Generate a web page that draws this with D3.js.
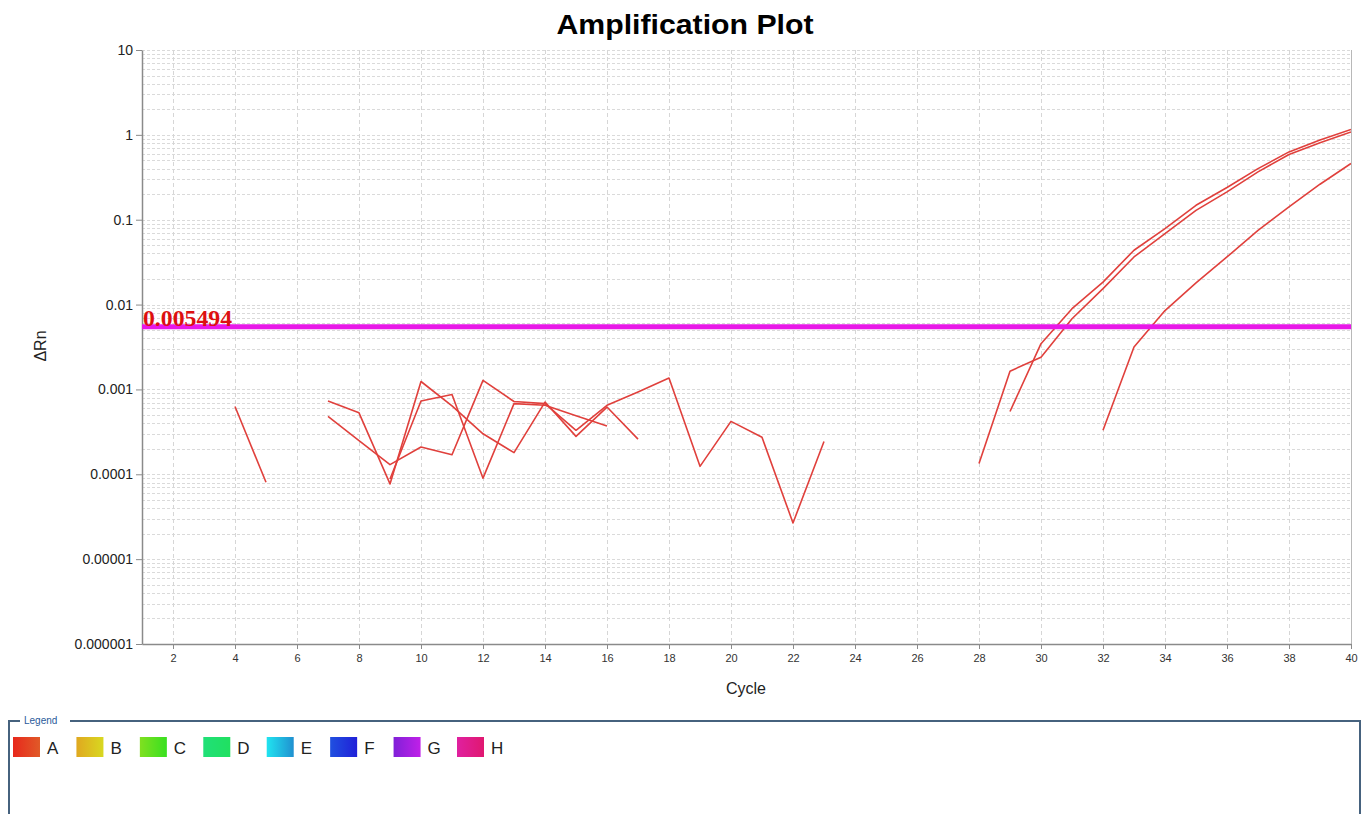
<!DOCTYPE html>
<html>
<head>
<meta charset="utf-8">
<script src="https://cdn.jsdelivr.net/npm/d3@7"></script>
<style>
  html, body { margin: 0; padding: 0; background: #ffffff; }
  svg { display: block; }
</style>
</head>
<body>
<svg id="chart" width="1370" height="814"></svg>
<script>
// Cycle numbers 1..40
const cycles = d3.range(1, 41);

// ΔRn per cycle for each trace in well A (null = not plotted)
function trace(start, values) {
  const arr = cycles.map(() => null);
  values.forEach((v, i) => { arr[start - 1 + i] = v; });
  return arr;
}
const wellA1 = trace(4, [0.00063, 0.0000805]);
const wellA2 = trace(7, [0.00073, 0.00053, 0.000077, 0.00124, 0.00064, 0.0003,
                         0.00018, 0.00071, 0.00028, 0.00062, 0.00026]);
const wellA3 = trace(7, [0.00048, 0.00025, 0.00013, 0.00021, 0.00017, 0.00128,
                         0.00072, 0.00068, 0.00033, 0.00065, 0.00093, 0.00136,
                         0.000124, 0.00042, 0.000273, 0.0000267, 0.000243]);
const wellA4 = trace(9, [0.000088, 0.00073, 0.00087, 0.00009, 0.00068, 0.00065,
                         0.00049, 0.00037]);
const wellA5 = trace(28, [0.000134, 0.00164, 0.0024, 0.0068, 0.0154, 0.0364,
                          0.0687, 0.129, 0.213, 0.366, 0.587, 0.805, 1.08]);
const wellA6 = trace(29, [0.00055, 0.00346, 0.00895, 0.0184, 0.0437, 0.0787,
                          0.148, 0.24, 0.40, 0.63, 0.87, 1.16]);
const wellA7 = trace(32, [0.00033, 0.00316, 0.0085, 0.018, 0.0364, 0.075,
                          0.1415, 0.262, 0.46]);
const traces = [wellA1, wellA2, wellA3, wellA4, wellA5, wellA6, wellA7];

const threshold = 0.005494;

const xTicks = d3.range(2, 41, 2);
const yTicks = [10, 1, 0.1, 0.01, 0.001, 0.0001, 0.00001, 0.000001];
const yTickLabels = ["10", "1", "0.1", "0.01", "0.001", "0.0001", "0.00001", "0.000001"];

const legendNames = ["A", "B", "C", "D", "E", "F", "G", "H"];
const legendColors = [
  ["#e8281c", "#e05a28"], ["#e0a820", "#d8d820"], ["#80e020", "#38e020"],
  ["#20e078", "#20e060"], ["#20e4f0", "#2090d0"], ["#2050e0", "#2020d8"],
  ["#8020d8", "#c020e8"], ["#e020a0", "#e01870"]
];

const svg = d3.select("#chart");
const margin = { left: 142, right: 1351, top: 50, bottom: 644 };

const x = d3.scaleLinear().domain([1, 40]).range([margin.left, margin.right]);
const y = d3.scaleLog().domain([0.000001, 10]).range([margin.bottom, margin.top]);

// Grid: minor log lines and vertical lines at even cycles
const minorY = [];
for (let e = -6; e < 1; e++) {
  for (let m = 1; m <= 9; m++) minorY.push(m * Math.pow(10, e));
}
minorY.push(10);

const grid = svg.append("g");
grid.selectAll("line.h").data(minorY).join("line")
  .attr("x1", margin.left).attr("x2", margin.right)
  .attr("y1", d => Math.round(y(d)) + 0.5).attr("y2", d => Math.round(y(d)) + 0.5)
  .attr("stroke", "#dadada").attr("stroke-width", 1)
  .attr("stroke-dasharray", "3,2");
grid.selectAll("line.v").data(xTicks).join("line")
  .attr("x1", d => Math.round(x(d)) + 0.5).attr("x2", d => Math.round(x(d)) + 0.5)
  .attr("y1", margin.top).attr("y2", margin.bottom)
  .attr("stroke", "#d6d6d6").attr("stroke-width", 1)
  .attr("stroke-dasharray", "4,3");

// Right edge of the plot
svg.append("line")
  .attr("x1", margin.right + 0.5).attr("x2", margin.right + 0.5)
  .attr("y1", margin.top).attr("y2", margin.bottom)
  .attr("stroke", "#b8b8b8");

// Axes
const yAxis = d3.axisLeft(y).tickValues(yTicks)
  .tickFormat((d, i) => yTickLabels[i]).tickSize(6).tickSizeOuter(0);
const gy = svg.append("g").attr("transform", `translate(${margin.left},0)`).call(yAxis);
gy.select(".domain").attr("stroke", "#8a8a8a").attr("stroke-width", 1.5);
gy.selectAll(".tick line").attr("stroke", "#8a8a8a");
gy.selectAll(".tick text").attr("font-family", "Arial, 'Liberation Sans', sans-serif")
  .attr("font-size", 14).attr("fill", "#222").attr("x", -9);

const xAxis = d3.axisBottom(x).tickValues(xTicks).tickSize(5).tickSizeOuter(0);
const gx = svg.append("g").attr("transform", `translate(0,${margin.bottom})`).call(xAxis);
gx.select(".domain").attr("stroke", "#8a8a8a").attr("stroke-width", 1.5);
gx.selectAll(".tick line").attr("stroke", "#8a8a8a");
gx.selectAll(".tick text").attr("font-family", "Arial, 'Liberation Sans', sans-serif")
  .attr("font-size", 11).attr("fill", "#333").attr("dy", "0.9em");

// Traces
svg.append("clipPath").attr("id", "plotClip").append("rect")
  .attr("x", margin.left).attr("y", margin.top)
  .attr("width", margin.right - margin.left).attr("height", margin.bottom - margin.top);

const line = d3.line()
  .defined(d => d.v != null)
  .x(d => x(d.c)).y(d => y(d.v));

svg.append("g").attr("clip-path", "url(#plotClip)")
  .selectAll("path").data(traces).join("path")
  .attr("d", t => line(t.map((v, i) => ({ c: cycles[i], v }))))
  .attr("fill", "none")
  .attr("stroke", "#e0403c")
  .attr("stroke-width", 1.6)
  .attr("stroke-linejoin", "round");

// Threshold
svg.append("line")
  .attr("x1", margin.left).attr("x2", margin.right)
  .attr("y1", y(threshold)).attr("y2", y(threshold))
  .attr("stroke", "#e818e8").attr("stroke-width", 5);
svg.append("text")
  .attr("x", margin.left + 1).attr("y", y(threshold) - 1)
  .attr("font-family", "'Liberation Serif', 'Times New Roman', serif")
  .attr("font-weight", "bold").attr("font-size", 23).attr("fill", "#dd1010")
  .attr("textLength", 89).attr("lengthAdjust", "spacingAndGlyphs")
  .text(threshold.toString());

// Titles
svg.append("text")
  .attr("x", 685).attr("y", 34).attr("text-anchor", "middle")
  .attr("font-family", "Arial, 'Liberation Sans', sans-serif")
  .attr("font-weight", "bold").attr("font-size", 28).attr("fill", "#000")
  .attr("textLength", 257).attr("lengthAdjust", "spacingAndGlyphs")
  .text("Amplification Plot");

svg.append("text")
  .attr("transform", "translate(46,346) rotate(-90)").attr("text-anchor", "middle")
  .attr("font-family", "Arial, 'Liberation Sans', sans-serif")
  .attr("font-size", 16).attr("fill", "#222")
  .text("ΔRn");

svg.append("text")
  .attr("x", 746).attr("y", 694).attr("text-anchor", "middle")
  .attr("font-family", "Arial, 'Liberation Sans', sans-serif")
  .attr("font-size", 16).attr("fill", "#222")
  .text("Cycle");

// Legend panel
const lg = svg.append("g");
lg.append("path")
  .attr("d", "M 20 721 H 9 V 830 M 70 721 H 1360 V 830")
  .attr("fill", "none").attr("stroke", "#46627e").attr("stroke-width", 2);
lg.append("text")
  .attr("x", 24).attr("y", 724)
  .attr("font-family", "Arial, 'Liberation Sans', sans-serif")
  .attr("font-size", 10).attr("fill", "#2a5a9a")
  .text("Legend");

const defs = svg.append("defs");
legendColors.forEach((c, i) => {
  const g = defs.append("linearGradient").attr("id", "sw" + i)
    .attr("x1", "0%").attr("x2", "100%").attr("y1", "0%").attr("y2", "0%");
  g.append("stop").attr("offset", "0%").attr("stop-color", c[0]);
  g.append("stop").attr("offset", "100%").attr("stop-color", c[1]);
});

const legendX = d3.scaleLinear().domain([0, 7]).range([13, 457]);
const items = lg.selectAll("g.item").data(legendNames).join("g")
  .attr("transform", (d, i) => `translate(${legendX(i)},737)`);
items.append("rect")
  .attr("width", 27).attr("height", 20)
  .attr("fill", (d, i) => `url(#sw${i})`);
items.append("text")
  .attr("x", 34).attr("y", 17)
  .attr("font-family", "Arial, 'Liberation Sans', sans-serif")
  .attr("font-size", 17).attr("fill", "#222")
  .text(d => d);
</script>
</body>
</html>
